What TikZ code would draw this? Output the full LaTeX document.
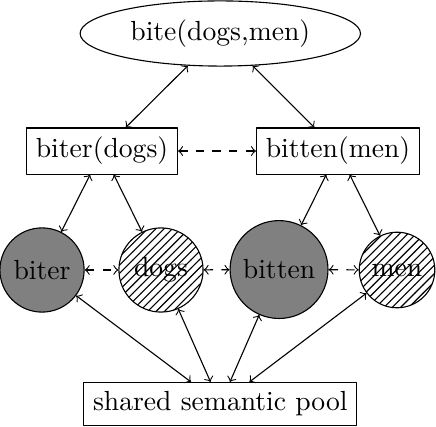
\documentclass[tikz,border=0pt]{standalone}
\usepackage{tikz}
\tikzset{>=to}
\usetikzlibrary{shapes,arrows}
\usetikzlibrary{patterns}

\begin{document}
\begin{tikzpicture}[line join=round,>=to,x=0.966cm,y=0.966cm,
	box/.style={draw,rectangle},
	word/.style={draw,circle,fill=gray},
	sense/.style={draw,circle,pattern=north east lines},
	link/.style={<->},
	dlink/.style={<->,dashed}]
	\useasboundingbox (0.,0.) rectangle (5.739,5.608);
	% top and middle level
	\node[draw,ellipse] (bite) at (2.9,5.167) {bite(dogs,men)};
	\node[box] (biterdogs) at (1.343,3.62) {biter(dogs)};
	\node[box] (bittenmen) at (4.449,3.62) {bitten(men)};
	% word level
	\node[word] (biter) at (0.553,2.054) {biter};
	\node[sense] (dogs) at (2.119,2.054) {dogs};
	\node[word] (bitten) at (3.673,2.06) {bitten};
	\node[sense] (men) at (5.226,2.054) {men};
	\node[box] (pool) at (2.9,0.29) {shared semantic pool};
	\draw[link] (bite) -- (biterdogs);
	\draw[link] (bite) -- (bittenmen);
	\draw[dlink] (biterdogs) -- (bittenmen);
	\draw[link] (biterdogs) -- (biter);
	\draw[link] (biterdogs) -- (dogs);
	\draw[link] (bittenmen) -- (bitten);
	\draw[link] (bittenmen) -- (men);
	\draw[dlink] (biter) -- (dogs);
	\draw[dlink] (dogs) -- (bitten);
	\draw[dlink] (bitten) -- (men);
	\foreach \w in {biter,dogs,bitten,men}
	\draw[link] (pool) -- (\w);
\end{tikzpicture}
\end{document}
